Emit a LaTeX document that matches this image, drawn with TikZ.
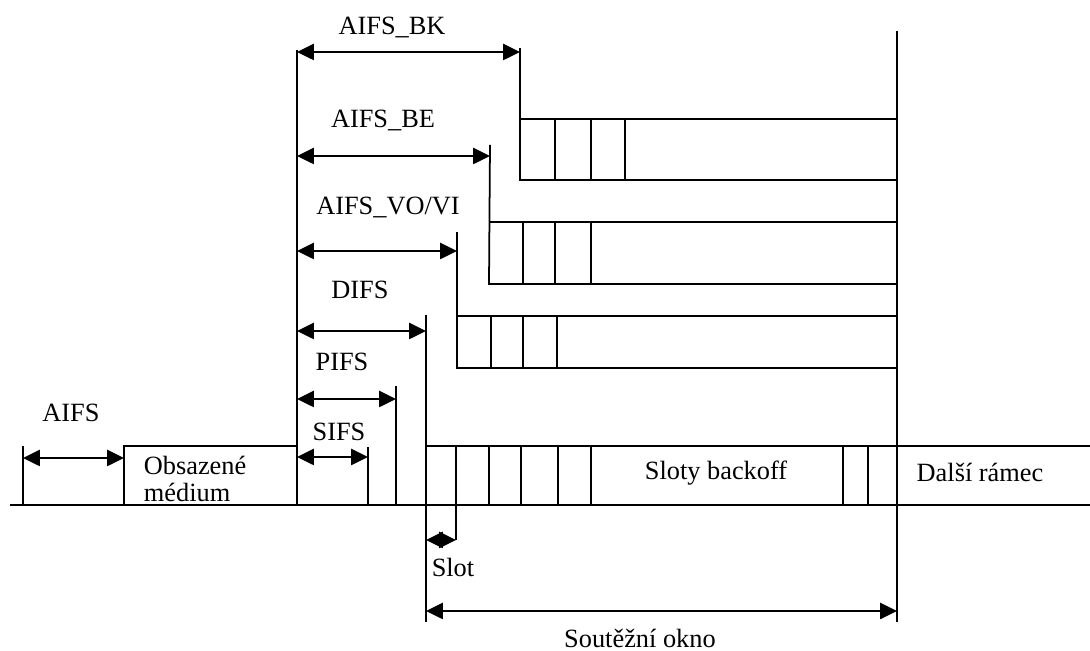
\documentclass[tikz,border=0pt]{standalone}
\usepackage{fontspec}
\setmainfont{Liberation Serif}
\usetikzlibrary{arrows.meta}

\begin{document}
\begin{tikzpicture}[x=0.02cm,y=-0.02cm,line width=1pt,
	>={Triangle[length=0.34cm,width=0.32cm]},
	dim/.style={<->,line width=1.5pt},
	lbl/.style={inner sep=0pt,font=\fontsize{15}{16}\selectfont}]
	\useasboundingbox (0,0) rectangle (1090,651);

	%time axis
	\draw (10,505) -- (1090,505);
	\draw (23,446) -- (23,505);
	\draw (124,505) -- (124,446) -- (297,446);
	\draw (297,50) -- (297,505);
	\draw (368,447) -- (368,505);
	\draw (396,386) -- (396,505);
	\draw (426,315) -- (426,622);
	\draw (897,31) -- (897,622);

	%backoff slots
	\draw (426,446) -- (1090,446);
	\foreach \x in {456,489,521,558,591,843,868}
	\draw (\x,446) -- (\x,505);
	\draw (456,505) -- (456,540);

	%queues VO/VI, BE, BK
	\draw (457,232) -- (457,368) -- (897,368);
	\draw (457,316) -- (897,316);
	\foreach \x in {491,523,557}
	\draw (\x,316) -- (\x,368);
	%
	\draw (490,145) -- (489,284) -- (897,284);
	\draw (489,222) -- (897,222);
	\foreach \x in {523,555,591}
	\draw (\x,222) -- (\x,284);
	%
	\draw (520,48) -- (520,180) -- (897,180);
	\draw (520,119) -- (897,119);
	\foreach \x in {555,591,625}
	\draw (\x,119) -- (\x,180);

	%interval ends
	\coordinate (aifsL) at (23,458);   \coordinate (aifsR) at (124,458);
	\coordinate (sifsL) at (297,457);  \coordinate (sifsR) at (368,457);
	\coordinate (pifsL) at (297,399);  \coordinate (pifsR) at (396,399);
	\coordinate (difsL) at (297,331);  \coordinate (difsR) at (426,331);
	\coordinate (voviL) at (297,251);  \coordinate (voviR) at (457,251);
	\coordinate (beL) at (297,156);    \coordinate (beR) at (490,156);
	\coordinate (bkL) at (297,52);     \coordinate (bkR) at (520,52);
	\coordinate (slotL) at (426,540);  \coordinate (slotR) at (456,540);
	\coordinate (cwL) at (426,611);    \coordinate (cwR) at (897,611);

	%intervals
	\draw[dim] (aifsL) -- (aifsR);
	\draw[dim] (sifsL) -- (sifsR);
	\draw[dim] (pifsL) -- (pifsR);
	\draw[dim] (difsL) -- (difsR);
	\draw[dim] (voviL) -- (voviR);
	\draw[dim] (beL) -- (beR);
	\draw[dim] (bkL) -- (bkR);
	\draw[dim] (slotL) -- (slotR);
	\draw[dim] (cwL) -- (cwR);

	%labels
	\node[lbl] (aifs) at (71,413) {AIFS};
	\node[lbl] (sifs) at (339,432) {SIFS};
	\node[lbl] (pifs) at (342,362) {PIFS};
	\node[lbl] (difs) at (360,290) {DIFS};
	\node[lbl] (vovi) at (388,207) {AIFS\_VO/VI};
	\node[lbl] (be) at (383,120) {AIFS\_BE};
	\node[lbl] (bk) at (392,27) {AIFS\_BK};
	\node[lbl,anchor=west,align=left] (busy) at (143,479) {Obsazené\\[-0.5pt]médium};
	\node[lbl] (backoff) at (716,473) {Sloty backoff};
	\node[lbl] (next) at (980,472) {Další rámec};
	\node[lbl] (slot) at (453,567) {Slot};
	\node[lbl] (cw) at (640,638) {Soutěžní okno};
\end{tikzpicture}
\end{document}
